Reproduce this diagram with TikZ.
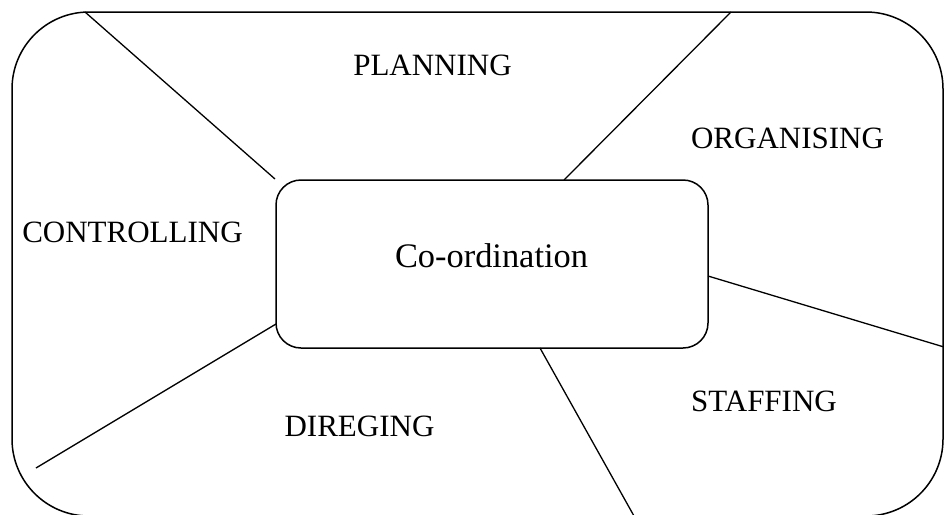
\documentclass[tikz,border=0pt]{standalone}
\usepackage{fontspec}
\setmainfont{Liberation Serif}
\begin{document}
\begin{tikzpicture}[x=1pt,y=-1pt,
  line width=1.5pt,
  frame/.style={draw, rounded corners=77pt},
  corebox/.style={draw, rounded corners=25pt, minimum width=432pt, minimum height=168pt, inner sep=0pt},
  func/.style={anchor=base, inner sep=0pt, font=\fontsize{31}{36}\selectfont},
  coretext/.style={anchor=base, inner sep=0pt, font=\fontsize{34.4}{40}\selectfont},
  spoke/.style={draw, line width=1.3pt}]
  \useasboundingbox (0,0) rectangle (944,514);
  \clip (0,0) rectangle (944,514);

  % outer frame
  \draw[frame] (12,12) rectangle (943,516);

  % central box
  \node[corebox] (core) at (492,264) {};
  \node[coretext] (coretxt) at (491.5,267) {Co-ordination};

  % spoke end points
  \coordinate (tlOut) at (85,12);
  \coordinate (tlIn)  at (275,179);
  \coordinate (trOut) at (731,12);
  \coordinate (trIn)  at (564,180);
  \coordinate (rIn)   at (708,276);
  \coordinate (rOut)  at (944,347);
  \coordinate (bIn)   at (540,348);
  \coordinate (bOut)  at (634,516);
  \coordinate (blIn)  at (276,324);
  \coordinate (blOut) at (36,468);

  \draw[spoke] (tlOut) -- (tlIn);
  \draw[spoke] (trOut) -- (trIn);
  \draw[spoke] (rIn) -- (rOut);
  \draw[spoke] (bIn) -- (bOut);
  \draw[spoke] (blIn) -- (blOut);

  % function labels
  \node[func] (planning)    at (432.5,75)  {PLANNING};
  \node[func] (organising)  at (787.5,148) {ORGANISING};
  \node[func] (controlling) at (132.5,242) {CONTROLLING};
  \node[func] (staffing)    at (764,411)   {STAFFING};
  \node[func] (direging)    at (359.5,436) {DIREGING};
\end{tikzpicture}
\end{document}
